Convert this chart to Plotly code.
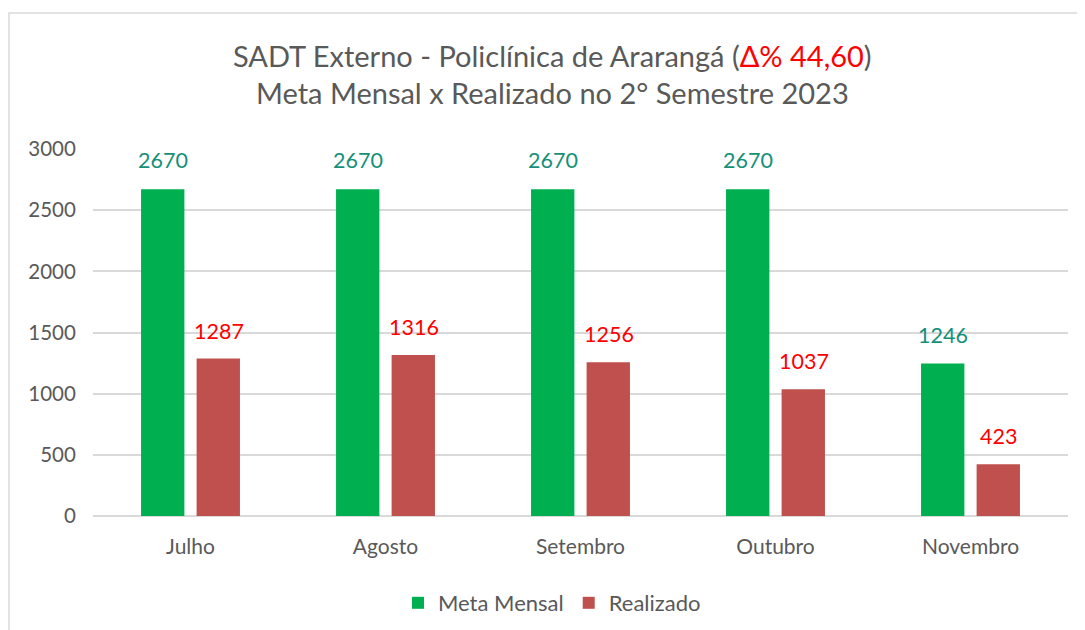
import plotly.graph_objects as go

categories = ["Julho", "Agosto", "Setembro", "Outubro", "Novembro"]
meta_mensal = [2670, 2670, 2670, 2670, 1246]
realizado = [1287, 1316, 1256, 1037, 423]
y_ticks = [0, 500, 1000, 1500, 2000, 2500, 3000]

FONT = "Lato, Carlito, 'Open Sans', sans-serif"
GREEN = "#00B050"
RED = "#C0504D"
GREEN_LBL = "#149078"
RED_LBL = "#FF0000"
GREY_TXT = "#595959"

FIG_H = 622

fig = go.Figure()
fig.add_trace(go.Bar(x=categories, y=meta_mensal, name="Meta Mensal",
                     marker=dict(color=GREEN, line=dict(width=0))))
fig.add_trace(go.Bar(x=categories, y=realizado, name="Realizado",
                     marker=dict(color=RED, line=dict(width=0))))

annotations = []
for c, v in zip(categories, meta_mensal):
    annotations.append(dict(x=c, y=v, xref="x", yref="y", text=str(v), showarrow=False,
                            xshift=-28, yshift=29, font=dict(family=FONT, size=21.5, color=GREEN_LBL)))
for c, v in zip(categories, realizado):
    annotations.append(dict(x=c, y=v, xref="x", yref="y", text=str(v), showarrow=False,
                            xshift=28, yshift=28, font=dict(family=FONT, size=21.5, color=RED_LBL)))

# Title
annotations.append(dict(xref="paper", yref="paper", x=(552 - 93) / 975, y=(516 - 55) / 367,
                        xanchor="center", yanchor="middle", showarrow=False,
                        text="SADT Externo - Policlínica de Ararangá (<span style='color:#FF0000'>Δ% 44,60</span>)",
                        font=dict(family=FONT, size=29, color=GREY_TXT)))
annotations.append(dict(xref="paper", yref="paper", x=(552 - 93) / 975, y=(516 - 93) / 367,
                        xanchor="center", yanchor="middle", showarrow=False,
                        text="Meta Mensal x Realizado no 2° Semestre 2023",
                        font=dict(family=FONT, size=29, color=GREY_TXT)))

fig.update_layout(
    width=1077, height=FIG_H,
    margin=dict(l=85, r=17, t=141, b=114, autoexpand=False),
    paper_bgcolor="white", plot_bgcolor="white",
    barmode="group", bargap=0.43, bargroupgap=0.22,
    showlegend=True,
    legend=dict(orientation="h", xref="container", yref="container",
                x=(552 - 8) / 1077, xanchor="center", y=1 - (603 - 8) / FIG_H, yanchor="middle",
                font=dict(family=FONT, size=22, color=GREY_TXT), itemwidth=30,
                traceorder="normal"),
    annotations=annotations,
    shapes=[dict(type="rect", xref="paper", yref="paper",
                 x0=(9 - 93) / 975, x1=1.2, y0=-0.6, y1=(516 - 13) / 367,
                 line=dict(color="#D9D9D9", width=1.5), fillcolor="rgba(0,0,0,0)", layer="below")],
    xaxis=dict(tickfont=dict(family=FONT, size=21, color=GREY_TXT), showline=False, automargin=False,
               ticks="outside", ticklen=12, tickcolor="rgba(0,0,0,0)", showgrid=False),
    yaxis=dict(range=[0, 3000], tickvals=y_ticks, tickfont=dict(family=FONT, size=20.5, color=GREY_TXT),
               showgrid=True, gridcolor="#D9D9D9", gridwidth=1.5, zeroline=True, automargin=False,
               zerolinecolor="#D9D9D9", zerolinewidth=1.5, ticks="outside", ticklen=12,
               tickcolor="rgba(0,0,0,0)", showline=False),
)

fig.write_html("out.html")
